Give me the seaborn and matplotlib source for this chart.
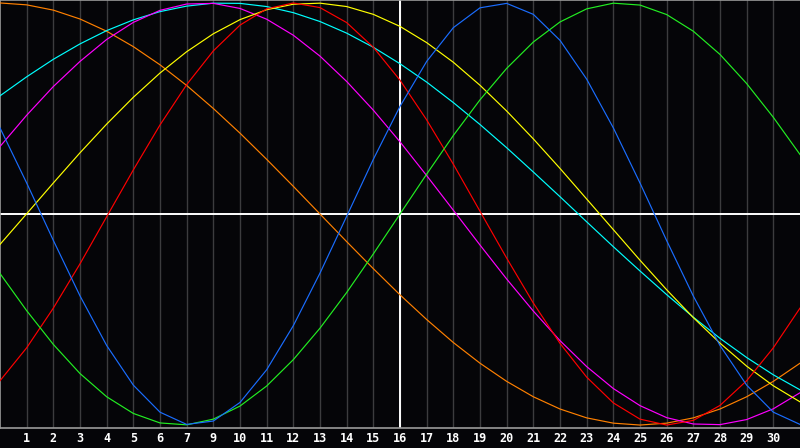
import numpy as np
import pandas as pd
import matplotlib
matplotlib.use("Agg")
import matplotlib.pyplot as plt
import seaborn as sns

# day slots across the chart (0 = left edge, 30 = right edge)
slots = list(range(31))
# labels under gridlines 1..29 (the source skips day 8)
day_labels = ["1", "2", "3", "4", "5", "6", "7", "9", "10", "11", "12", "13",
              "14", "15", "16", "17", "18", "19", "20", "21", "22", "23", "24",
              "25", "26", "27", "28", "29", "30"]

blue = [0.408, 0.147, -0.125, -0.388, -0.623, -0.811, -0.939, -0.997, -0.981,
        -0.893, -0.738, -0.529, -0.280, -0.011, 0.259, 0.510, 0.723, 0.883,
        0.977, 0.998, 0.946, 0.823, 0.639, 0.408, 0.147, -0.126, -0.389,
        -0.623, -0.811, -0.939, -0.997]
green = [-0.282, -0.458, -0.618, -0.756, -0.866, -0.945, -0.990, -0.999,
         -0.972, -0.910, -0.815, -0.690, -0.541, -0.372, -0.189, 0.0, 0.189,
         0.372, 0.541, 0.690, 0.815, 0.910, 0.972, 0.999, 0.990, 0.945, 0.866,
         0.756, 0.618, 0.458, 0.282]
red = [-0.790, -0.634, -0.446, -0.236, -0.013, 0.209, 0.422, 0.613, 0.773,
       0.895, 0.972, 1.000, 0.978, 0.907, 0.790, 0.634, 0.446, 0.236, 0.013,
       -0.209, -0.422, -0.613, -0.773, -0.895, -0.972, -1.000, -0.978, -0.907,
       -0.790, -0.634, -0.446]
yellow = [-0.144, 0.001, 0.147, 0.290, 0.426, 0.553, 0.668, 0.769, 0.854,
          0.921, 0.968, 0.994, 0.999, 0.983, 0.946, 0.889, 0.812, 0.719,
          0.610, 0.488, 0.356, 0.216, 0.071, -0.074, -0.219, -0.359, -0.491,
          -0.612, -0.721, -0.814, -0.890]
cyan = [0.560, 0.650, 0.733, 0.806, 0.869, 0.920, 0.959, 0.985, 0.999, 0.998,
        0.983, 0.954, 0.912, 0.857, 0.790, 0.712, 0.625, 0.528, 0.424, 0.314,
        0.199, 0.082, -0.037, -0.155, -0.270, -0.382, -0.489, -0.589, -0.680,
        -0.762, -0.833]
magenta = [0.320, 0.468, 0.604, 0.723, 0.827, 0.908, 0.965, 0.995, 0.998,
           0.974, 0.923, 0.847, 0.748, 0.628, 0.492, 0.342, 0.182, 0.018,
           -0.147, -0.308, -0.460, -0.600, -0.723, -0.827, -0.908, -0.965,
           -0.995, -0.998, -0.974, -0.923, -0.847]
orange = [1.000, 0.991, 0.966, 0.924, 0.866, 0.793, 0.707, 0.609, 0.500,
          0.383, 0.259, 0.131, 0.0, -0.131, -0.259, -0.383, -0.500, -0.609,
          -0.707, -0.793, -0.866, -0.924, -0.966, -0.991, -1.000, -0.991,
          -0.966, -0.924, -0.866, -0.793, -0.707]

series = {"orange": orange, "cyan": cyan, "magenta": magenta,
          "yellow": yellow, "red": red, "green": green, "blue": blue}
colors = {"orange": "#ff8000", "cyan": "#00ffff", "magenta": "#ff00ff",
          "yellow": "#ffff00", "red": "#ff0000", "green": "#22ee22",
          "blue": "#1a6dff"}

df = pd.concat([pd.DataFrame({"slot": slots, "value": v, "cycle": k})
                for k, v in series.items()], ignore_index=True)

bg = "#050508"
fig = plt.figure(figsize=(8, 4.48), dpi=100, facecolor=bg)
ax = fig.add_axes([0, 20 / 448, 1, 428 / 448])
ax.set_facecolor(bg)

# vertical day grid
ax.set_xticks(range(1, 30))
ax.set_xticklabels(day_labels, color="white", fontsize=8.5,
                   fontweight="bold", family="DejaVu Sans Mono")
ax.tick_params(axis="x", length=0, pad=3)
ax.set_yticks([])
ax.grid(axis="x", color="#3c3c3e", lw=1.0, zorder=0)
ax.set_axisbelow(True)

ax.axhline(0, color="white", lw=1.4, zorder=1)
ax.axvline(15, color="white", lw=1.4, zorder=1)

sns.lineplot(data=df, x="slot", y="value", hue="cycle", palette=colors,
             hue_order=list(series.keys()), lw=0.85, legend=False, ax=ax,
             zorder=3)

ax.set_xlim(0, 30)
ax.set_ylim(-1.014, 1.014)
ax.set_xlabel("")
ax.set_ylabel("")
for side in ["left", "top", "bottom"]:
    ax.spines[side].set_color("#9a9a9a")
    ax.spines[side].set_linewidth(1.2)
ax.spines["right"].set_visible(False)

fig.savefig("out.png", dpi=100, facecolor=bg)
